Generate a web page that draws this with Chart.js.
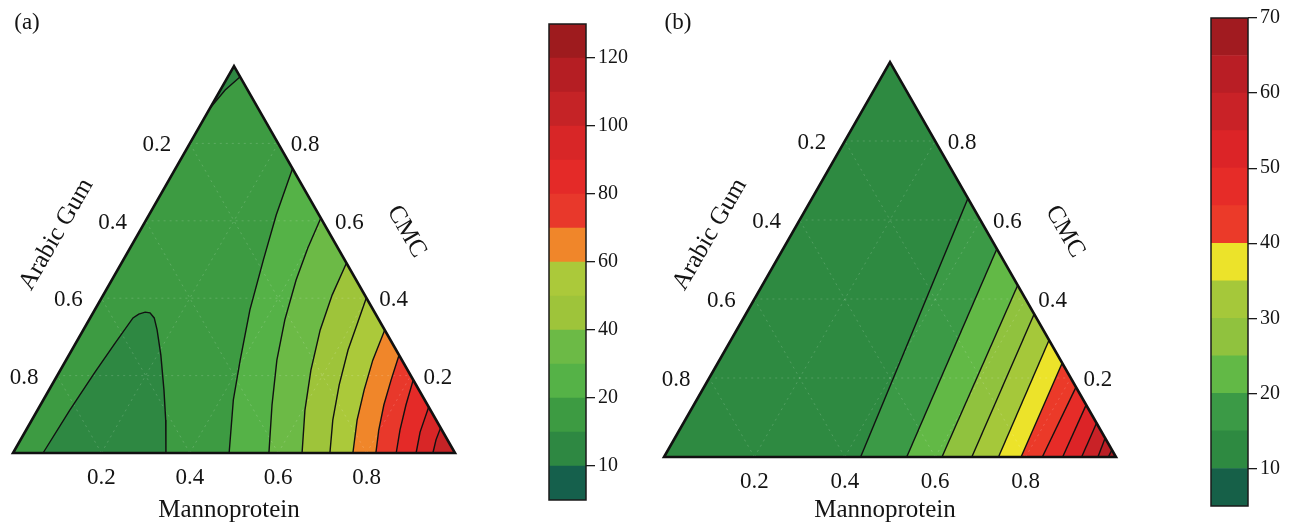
<!DOCTYPE html>
<html>
<head>
<meta charset="utf-8">
<script src="https://cdn.jsdelivr.net/npm/chart.js@4.4.1/dist/chart.umd.min.js"></script>
<style>
  html, body { margin: 0; padding: 0; background: #fff; }
  body { width: 1299px; height: 525px; position: relative; overflow: hidden; }
  canvas { position: absolute; top: 0; }
</style>
</head>
<body>
<canvas id="ternA" width="540" height="525" style="left:0px"></canvas>
<canvas id="barA" width="110" height="525" style="left:540px"></canvas>
<canvas id="ternB" width="540" height="525" style="left:650px"></canvas>
<canvas id="barB" width="109" height="525" style="left:1190px"></canvas>
<script>
// Ternary compositions are written as [Mannoprotein, CMC]; Arabic Gum = 1 - both.
const ternTicks = [0.2, 0.4, 0.6, 0.8];

// ---- Panel (a) ----
const levelsA = [5, 10, 15, 20, 30, 40, 50, 60, 70, 80, 90, 100, 110, 120, 130];
const colorsA = ['#15604c', '#2e8842', '#3d9b42', '#55b247', '#6cba46', '#9ec43a', '#abc93a',
                 '#f0862a', '#e8382b', '#e42a28', '#d82627', '#c52326', '#b51e23', '#9e1b1e'];
const tickLevelsA = [10, 20, 40, 60, 80, 100, 120];

const aLoop15 = [[0.068, 0], [0.073, 0.111], [0.081, 0.209], [0.089, 0.284], [0.097, 0.349],
                 [0.105, 0.359], [0.117, 0.364], [0.129, 0.362], [0.145, 0.349], [0.167, 0.318],
                 [0.208, 0.253], [0.260, 0.163], [0.303, 0.085], [0.346, 0]];
const aApex15 = [[0.028, 0.972], [0.011, 0.938], [0, 0.891]];
const a20 = [[0.489, 0], [0.430, 0.137], [0.394, 0.240], [0.351, 0.370], [0.317, 0.499], [0.288, 0.615], [0.265, 0.735]];
const a30 = [[0.579, 0], [0.524, 0.124], [0.477, 0.240], [0.443, 0.344], [0.417, 0.447], [0.402, 0.530], [0.393, 0.607]];
const a40 = [[0.654, 0], [0.605, 0.111], [0.567, 0.214], [0.536, 0.318], [0.518, 0.408], [0.509, 0.491]];
const a50 = [[0.717, 0], [0.681, 0.085], [0.650, 0.176], [0.625, 0.266], [0.611, 0.339], [0.599, 0.401]];
const a60 = [[0.769, 0], [0.736, 0.085], [0.713, 0.163], [0.694, 0.240], [0.682, 0.318]];
const a70 = [[0.821, 0], [0.798, 0.059], [0.777, 0.124], [0.761, 0.189], [0.747, 0.253]];
const a80 = [[0.867, 0], [0.846, 0.059], [0.827, 0.124], [0.811, 0.189]];
const a90 = [[0.912, 0], [0.894, 0.054], [0.881, 0.119]];
const a100 = [[0.950, 0], [0.940, 0.034], [0.935, 0.065]];
const contourLevelsA = [20, 30, 40, 50, 60, 70, 80, 90, 100];
const contoursA = [a20, a30, a40, a50, a60, a70, a80, a90, a100];

// ---- Panel (b) ----
const levelsB = [5, 10, 15, 20, 25, 30, 35, 40, 45, 50, 55, 60, 65, 70];
const colorsB = ['#166048', '#2e8a41', '#3b9a46', '#62b946', '#90c23e', '#a5c83a', '#ece32a',
                 '#eb3a29', '#e62c28', '#dc2427', '#c92227', '#b91e25', '#a11b20'];
const tickLevelsB = [10, 20, 30, 40, 50, 60, 70];

const b15 = [[0.435, 0], [0.345, 0.655]];
const b20 = [[0.537, 0], [0.473, 0.527]];
const b25 = [[0.615, 0], [0.565, 0.435]];
const b30 = [[0.681, 0], [0.638, 0.362]];
const b35 = [[0.740, 0], [0.704, 0.296]];
const b40 = [[0.790, 0], [0.762, 0.238]];
const b45 = [[0.837, 0], [0.823, 0.177]];
const b50 = [[0.882, 0], [0.868, 0.132]];
const b55 = [[0.924, 0], [0.914, 0.086]];
const b60 = [[0.960, 0], [0.952, 0.048]];
const b65 = [[0.983, 0], [0.982, 0.018]];
const contourLevelsB = [15, 20, 25, 30, 35, 40, 45, 50, 55, 60, 65];
const contoursB = [b15, b20, b25, b30, b35, b40, b45, b50, b55, b60, b65];

// ---- helpers ----
const SQ = Math.sqrt(3) / 2;
const toXY = ([m, c]) => ({ x: m + c / 2, y: c * SQ });
const SERIF = '"Liberation Serif", "Times New Roman", serif';

function fillDs(pts, color, order) {
  return { data: pts.map(toXY), fill: 'shape', backgroundColor: color,
           borderColor: 'rgba(0,0,0,0)', borderWidth: 0, pointRadius: 0, order, clip: false };
}
function strokeDs(pts, extra) {
  return Object.assign({ data: pts.map(toXY), fill: false, borderColor: '#111', borderWidth: 1.4,
                         pointRadius: 0, order: 1, clip: false }, extra || {});
}

const ternaryText = {
  id: 'ternaryText',
  afterDraw(chart, args, opts) {
    const { ctx } = chart;
    const sx = chart.scales.x, sy = chart.scales.y;
    const P = (m, c) => [sx.getPixelForValue(m + c / 2), sy.getPixelForValue(c * SQ)];
    ctx.save();
    ctx.fillStyle = '#141414';
    ctx.textAlign = 'center';
    ctx.textBaseline = 'middle';
    ctx.font = '23px ' + SERIF;
    ternTicks.forEach(v => {
      const t = v.toFixed(1);
      let [px, py] = P(v, 0);
      ctx.fillText(t, px, py + 25);
      [px, py] = P(0, 1 - v);
      ctx.fillText(t, px - 33, py + 2);
      [px, py] = P(1 - v, v);
      ctx.fillText(t, px + 27, py + 2);
    });
    const bl = P(0, 0), br = P(1, 0), ap = P(0, 1);
    ctx.font = '25px ' + SERIF;
    ctx.fillText('Mannoprotein', (bl[0] + br[0]) / 2 - 5, 510);
    ctx.save();
    ctx.translate((bl[0] + ap[0]) / 2 - 67, (bl[1] + ap[1]) / 2 - 25);
    ctx.rotate(-Math.PI / 3);
    ctx.fillText('Arabic Gum', 0, 0);
    ctx.restore();
    ctx.save();
    ctx.translate((br[0] + ap[0]) / 2 + 62, (br[1] + ap[1]) / 2 - 28);
    ctx.rotate(Math.PI / 3);
    ctx.fillText('CMC', 0, 0);
    ctx.restore();
    ctx.font = '23px ' + SERIF;
    ctx.fillText(opts.letter, bl[0] + 14, 23);
    ctx.restore();
  }
};

function ternary(id, pad, letter, baseColor, regions, lines) {
  const datasets = [];
  datasets.push(fillDs([[0, 0], [1, 0], [0, 1]], baseColor, 100));
  regions.forEach((r, i) => datasets.push(fillDs(r.pts, r.color, 50 - i)));
  ternTicks.forEach(v => {
    const g = { borderColor: 'rgba(255,255,255,0.17)', borderWidth: 1, borderDash: [2, 4], order: 2 };
    datasets.push(strokeDs([[v, 0], [v, 1 - v]], g));
    datasets.push(strokeDs([[0, v], [1 - v, v]], g));
    datasets.push(strokeDs([[1 - v, 0], [0, 1 - v]], g));
  });
  lines.forEach(l => datasets.push(strokeDs(l)));
  datasets.push(strokeDs([[0, 0], [1, 0], [0, 1], [0, 0], [1, 0]],
    { borderWidth: 2.6, order: 0, borderJoinStyle: 'miter' }));
  return new Chart(document.getElementById(id), {
    type: 'line',
    data: { datasets },
    options: {
      responsive: false, animation: false, devicePixelRatio: 1, events: [],
      layout: { padding: pad },
      scales: {
        x: { type: 'linear', min: 0, max: 1, display: false },
        y: { type: 'linear', min: 0, max: SQ, display: false }
      },
      plugins: { legend: { display: false }, tooltip: { enabled: false }, ternaryText: { letter } }
    },
    plugins: [ternaryText]
  });
}

const barOutline = {
  id: 'barOutline',
  afterDatasetsDraw(chart) {
    const { ctx, chartArea: a } = chart;
    ctx.save();
    ctx.strokeStyle = '#1a1a1a';
    ctx.lineWidth = 1.5;
    ctx.strokeRect(a.left, a.top, a.right - a.left, a.bottom - a.top);
    ctx.restore();
  }
};

function colorbar(id, pad, axisW, bands, yMin, yMax, tickVals, label) {
  return new Chart(document.getElementById(id), {
    type: 'bar',
    data: {
      labels: [''],
      datasets: bands.map(b => ({ data: [[b.lo, b.hi]], backgroundColor: b.color, borderWidth: 0,
                                  grouped: false, barPercentage: 1, categoryPercentage: 1 }))
    },
    options: {
      responsive: false, animation: false, devicePixelRatio: 1, events: [],
      layout: { padding: pad },
      scales: {
        x: { display: false },
        y: {
          position: 'right', min: yMin, max: yMax,
          afterBuildTicks: ax => { ax.ticks = tickVals.map(v => ({ value: v })); },
          afterFit: ax => { ax.width = axisW; },
          ticks: { autoSkip: false, padding: 3, color: '#141414', font: { family: SERIF, size: 20 },
                   callback: v => label(v) },
          grid: { drawOnChartArea: false, drawTicks: true, tickLength: 9, color: '#1a1a1a', lineWidth: 1.3 },
          border: { display: false }
        }
      },
      plugins: { legend: { display: false }, tooltip: { enabled: false } }
    },
    plugins: [barOutline]
  });
}

// Panel (a): base band 15-20, darker pockets below 15, rising bands toward pure Mannoprotein
const regionsA = [
  { pts: aLoop15, color: colorsA[levelsA.indexOf(10)] },
  { pts: aApex15.concat([[0, 1]]), color: colorsA[levelsA.indexOf(10)] }
].concat(contoursA.map((c, k) => ({ pts: c.concat([[1, 0]]), color: colorsA[levelsA.indexOf(contourLevelsA[k])] })));
ternary('ternA', { left: 13, right: 85, top: 66, bottom: 72 }, '(a)',
        colorsA[levelsA.indexOf(15)], regionsA, [aLoop15, aApex15].concat(contoursA));

// Panel (b): base band 10-15
const regionsB = contoursB.map((c, k) => ({ pts: c.concat([[1, 0]]), color: colorsB[levelsB.indexOf(contourLevelsB[k])] }));
ternary('ternB', { left: 14, right: 74, top: 62, bottom: 68 }, '(b)',
        colorsB[levelsB.indexOf(10)], regionsB, contoursB);

// Colour bars: (a) uses evenly spaced level slots, (b) is linear in value
colorbar('barA', { left: 9, right: 4, top: 24, bottom: 25 }, 60,
         colorsA.map((c, i) => ({ lo: i, hi: i + 1, color: c })), 0, colorsA.length,
         tickLevelsA.map(L => levelsA.indexOf(L)), v => String(levelsA[v]));
colorbar('barB', { left: 21, right: 3, top: 18, bottom: 19 }, 48,
         colorsB.map((c, i) => ({ lo: levelsB[i], hi: levelsB[i + 1], color: c })), levelsB[0], levelsB[levelsB.length - 1],
         tickLevelsB, v => String(v));
</script>
</body>
</html>
